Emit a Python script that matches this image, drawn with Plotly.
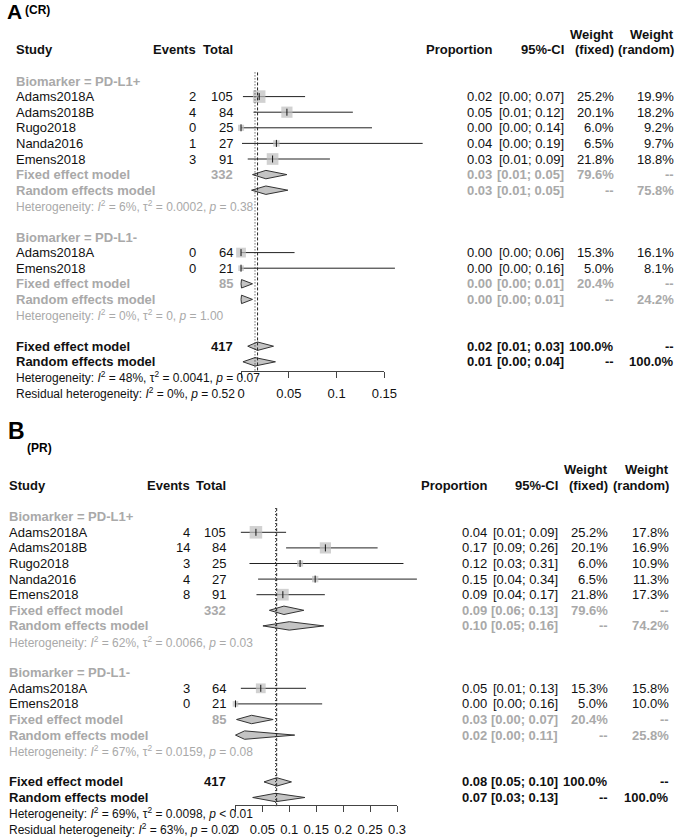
import math
import plotly.graph_objects as go

W, H = 692, 839
FONT = "Liberation Sans, Arial, Helvetica, sans-serif"
BLACK = "#111111"
GREY = "#a9a9a9"

# ---- shared study info ----
study_pos = ["Adams2018A", "Adams2018B", "Rugo2018", "Nanda2016", "Emens2018"]
study_neg = ["Adams2018A", "Emens2018"]
total_pos = [105, 84, 25, 27, 91]
total_neg = [64, 21]
pool_names = ["Fixed effect model", "Random effects model"]
pool_totals = [332, 85, 417]
pool_wfix = [79.6, None, 20.4, None, 100.0, None]

# ---- (CR) complete response ----
cr_events_pos = [2, 4, 0, 1, 3]
cr_events_neg = [0, 0]
cr_est_pos = [0.019, 0.048, 0.000, 0.037, 0.033]
cr_lo_pos = [0.002, 0.013, 0.000, 0.001, 0.007]
cr_hi_pos = [0.067, 0.117, 0.137, 0.190, 0.093]
cr_est_neg = [0.000, 0.000]
cr_lo_neg = [0.000, 0.000]
cr_hi_neg = [0.056, 0.161]
cr_wfix_pos = [25.2, 20.1, 6.0, 6.5, 21.8]
cr_wran_pos = [19.9, 18.2, 9.2, 9.7, 18.8]
cr_wfix_neg = [15.3, 5.0]
cr_wran_neg = [16.1, 8.1]
# pooled order: fixed PD-L1+, random PD-L1+, fixed PD-L1-, random PD-L1-, fixed all, random all
cr_pool_est = [0.026, 0.026, 0.0005, 0.0005, 0.0173, 0.0146]
cr_pool_lo = [0.012, 0.011, 0.000, 0.000, 0.007, 0.002]
cr_pool_hi = [0.048, 0.049, 0.012, 0.012, 0.034, 0.036]
cr_pool_wran = [None, 75.8, None, 24.2, None, 100.0]
cr_het = ["<i>I</i><sup>2</sup> = 6%, τ<sup>2</sup> = 0.0002, <i>p</i> = 0.38",
          "<i>I</i><sup>2</sup> = 0%, τ<sup>2</sup> = 0, <i>p</i> = 1.00",
          "<i>I</i><sup>2</sup> = 48%, τ<sup>2</sup> = 0.0041, <i>p</i> = 0.07",
          "<i>I</i><sup>2</sup> = 0%, <i>p</i> = 0.52"]
cr_ticks = [0, 0.05, 0.1, 0.15]
cr_ticktext = ["0", "0.05", "0.1", "0.15"]

# ---- (PR) partial response ----
pr_events_pos = [4, 14, 3, 4, 8]
pr_events_neg = [3, 0]
pr_est_pos = [0.038, 0.167, 0.120, 0.148, 0.088]
pr_lo_pos = [0.010, 0.094, 0.026, 0.042, 0.039]
pr_hi_pos = [0.094, 0.264, 0.312, 0.337, 0.166]
pr_est_neg = [0.047, 0.000]
pr_lo_neg = [0.010, 0.000]
pr_hi_neg = [0.131, 0.161]
pr_wfix_pos = [25.2, 20.1, 6.0, 6.5, 21.8]
pr_wran_pos = [17.8, 16.9, 10.9, 11.3, 17.3]
pr_wfix_neg = [15.3, 5.0]
pr_wran_neg = [15.8, 10.0]
pr_pool_est = [0.090, 0.100, 0.030, 0.017, 0.0765, 0.0745]
pr_pool_lo = [0.063, 0.051, 0.002, 0.000, 0.053, 0.032]
pr_pool_hi = [0.127, 0.164, 0.070, 0.110, 0.104, 0.129]
pr_pool_wran = [None, 74.2, None, 25.8, None, 100.0]
pr_het = ["<i>I</i><sup>2</sup> = 62%, τ<sup>2</sup> = 0.0066, <i>p</i> = 0.03",
          "<i>I</i><sup>2</sup> = 67%, τ<sup>2</sup> = 0.0159, <i>p</i> = 0.08",
          "<i>I</i><sup>2</sup> = 69%, τ<sup>2</sup> = 0.0098, <i>p</i> &lt; 0.01",
          "<i>I</i><sup>2</sup> = 63%, <i>p</i> = 0.02"]
pr_ticks = [0, 0.05, 0.1, 0.15, 0.2, 0.25, 0.3]
pr_ticktext = ["0", "0.05", "0.1", "0.15", "0.2", "0.25", "0.3"]

# rows (top to bottom)
ROW_GRP = [0, 10]
ROW_POS = [1, 2, 3, 4, 5]
ROW_NEG = [11, 12]
ROW_POOL = [6, 7, 13, 14, 17, 18]
ROW_HET = [8, 15, 19, 20]

fig = go.Figure()
annotations = []


def txt(x_px, yref, row, text, anchor="left", color=BLACK, bold=False, size=13):
    if bold:
        text = "<b>" + text + "</b>"
    annotations.append(dict(x=x_px / W, xref="paper", y=row, yref=yref, text=text,
                            xanchor=anchor, yanchor="middle", showarrow=False,
                            font=dict(family=FONT, size=size, color=color)))


def ptxt(v):
    return "--" if v is None else "%.1f%%" % v


def panel(xa, ya, xv, yref, g, ev_pos, ev_neg, est_pos, lo_pos, hi_pos, est_neg, lo_neg, hi_neg,
          wf_pos, wr_pos, wf_neg, wr_neg, p_est, p_lo, p_hi, p_wran, het):
    # header
    txt(g["wf"], yref, -3, "Weight", "right", bold=True)
    txt(g["wr"], yref, -3, "Weight", "right", bold=True)
    for key, label in [("left", "Study"), ("ev", "Events"), ("tot", "Total"), ("prop", "Proportion"),
                       ("ci", "95%-CI"), ("wf", "(fixed)"), ("wr", "(random)")]:
        txt(g[key], yref, -2, label, "left" if key == "left" else "right", bold=True)
    txt(g["left"], yref, ROW_GRP[0], "Biomarker = PD-L1+", color=GREY, bold=True)
    txt(g["left"], yref, ROW_GRP[1], "Biomarker = PD-L1-", color=GREY, bold=True)

    names = study_pos + study_neg
    events = ev_pos + ev_neg
    totals = total_pos + total_neg
    est = est_pos + est_neg
    lo = lo_pos + lo_neg
    hi = hi_pos + hi_neg
    wf = wf_pos + wf_neg
    wr = wr_pos + wr_neg
    rows = ROW_POS + ROW_NEG
    for i, r in enumerate(rows):
        txt(g["left"], yref, r, names[i])
        txt(g["ev"], yref, r, str(events[i]), "right")
        txt(g["tot"], yref, r, str(totals[i]), "right")
        txt(g["prop"], yref, r, "%.2f" % est[i], "right")
        txt(g["ci"], yref, r, "[%.2f; %.2f]" % (lo[i], hi[i]), "right")
        txt(g["wf"], yref, r, ptxt(wf[i]), "right")
        txt(g["wr"], yref, r, ptxt(wr[i]), "right")

    for j, r in enumerate(ROW_POOL):
        c = BLACK if j >= 4 else GREY
        txt(g["left"], yref, r, pool_names[j % 2], color=c, bold=True)
        if j % 2 == 0:
            txt(g["tot"], yref, r, str(pool_totals[j // 2]), "right", color=c, bold=True)
        txt(g["prop"], yref, r, "%.2f" % p_est[j], "right", color=c, bold=True)
        txt(g["ci"], yref, r, "[%.2f; %.2f]" % (p_lo[j], p_hi[j]), "right", color=c, bold=True)
        txt(g["wf"], yref, r, ptxt(pool_wfix[j]), "right", color=c, bold=True)
        txt(g["wr"], yref, r, ptxt(p_wran[j]), "right", color=c, bold=True)

    for k, r in enumerate(ROW_HET):
        c = GREY if k < 2 else BLACK
        lead = "Residual heterogeneity: " if k == 3 else "Heterogeneity: "
        txt(g["left"], yref, r, lead + het[k], color=c, size=12)

    # confidence intervals
    cx, cy = [], []
    for i, r in enumerate(rows):
        cx += [lo[i], hi[i], None]
        cy += [r, r, None]
    fig.add_trace(go.Scatter(x=cx, y=cy, mode="lines", xaxis=xa, yaxis=ya,
                             line=dict(color="#222222", width=1), hoverinfo="skip"))
    fig.add_trace(go.Scatter(x=est, y=rows, mode="markers", xaxis=xa, yaxis=ya,
                             marker=dict(symbol="square", color="#bdbdbd",
                                         size=[2.5 * math.sqrt(w) for w in wf],
                                         line=dict(width=0))))
    fig.add_trace(go.Scatter(x=est, y=rows, mode="markers", xaxis=xa, yaxis=ya,
                             marker=dict(symbol="line-ns", size=5,
                                         line=dict(color="#111111", width=1))))
    # diamonds
    h = 0.27
    for j, r in enumerate(ROW_POOL):
        fig.add_trace(go.Scatter(x=[p_lo[j], p_est[j], p_hi[j], p_est[j], p_lo[j]],
                                 y=[r, r - h, r, r + h, r], mode="lines", fill="toself",
                                 fillcolor="#c4c4c4", xaxis=xa, yaxis=ya,
                                 line=dict(color="#333333", width=1)))
    # reference lines: fixed (dashed) and random (dotted) overall estimates
    top, bottom = -0.55, 18.6
    fig.add_trace(go.Scatter(x=[p_est[4], p_est[4]], y=[top, bottom], mode="lines", xaxis=xv, yaxis=ya,
                             line=dict(color="#222222", width=1, dash="3px,2px")))
    fig.add_trace(go.Scatter(x=[p_est[5], p_est[5]], y=[top, bottom], mode="lines", xaxis=xv, yaxis=ya,
                             line=dict(color="#222222", width=1, dash="1px,2px")))


geoA = dict(row0=81.0, dy=15.6, top=0, bottom=420, zero=243.0, ppu=980.0, axis=371, standoff=4,
            left=10, ev=199, tot=237, prop=502, ci=576, wf=627, wr=689)
geoB = dict(row0=516.7, dy=15.6, top=420, bottom=839, zero=237.3, ppu=552.0, axis=805, standoff=6,
            left=3.5, ev=192.7, tot=230, prop=497, ci=570, wf=621, wr=684)

panel("x", "y", "x3", "y", geoA, cr_events_pos, cr_events_neg, cr_est_pos, cr_lo_pos, cr_hi_pos,
      cr_est_neg, cr_lo_neg, cr_hi_neg, cr_wfix_pos, cr_wran_pos, cr_wfix_neg, cr_wran_neg,
      cr_pool_est, cr_pool_lo, cr_pool_hi, cr_pool_wran, cr_het)
panel("x2", "y2", "x4", "y2", geoB, pr_events_pos, pr_events_neg, pr_est_pos, pr_lo_pos, pr_hi_pos,
      pr_est_neg, pr_lo_neg, pr_hi_neg, pr_wfix_pos, pr_wran_pos, pr_wfix_neg, pr_wran_neg,
      pr_pool_est, pr_pool_lo, pr_pool_hi, pr_pool_wran, pr_het)

# panel letters
for letter, sub, lx, ly, lsize, sx, sy in [("A", "(CR)", 1, 12, 21, 19, 10),
                                            ("B", "(PR)", 2, 431, 23, 22, 448)]:
    annotations.append(dict(x=lx / W, y=1 - ly / H, xref="paper", yref="paper", text="<b>%s</b>" % letter,
                            xanchor="left", yanchor="middle", showarrow=False,
                            font=dict(family=FONT, size=lsize, color="#000000")))
    annotations.append(dict(x=sx / W, y=1 - sy / H, xref="paper", yref="paper", text="<b>%s</b>" % sub,
                            xanchor="left", yanchor="middle", showarrow=False,
                            font=dict(family=FONT, size=12, color="#000000")))


def data_axes(g):
    xr = [(0 - g["zero"]) / g["ppu"], (W - g["zero"]) / g["ppu"]]
    yr = [(g["bottom"] - g["row0"]) / g["dy"], (g["top"] - g["row0"]) / g["dy"]]
    yd = [1 - g["bottom"] / H, 1 - g["top"] / H]
    return xr, yr, yd


def vis_axis(g, ticks, labels):
    return dict(domain=[g["zero"] / W, (g["zero"] + ticks[-1] * g["ppu"]) / W], range=[0, ticks[-1]],
                anchor="free", position=1 - g["axis"] / H, showline=True, linecolor="#444444",
                linewidth=1, ticks="outside", ticklen=6, tickcolor="#444444", tickvals=ticks,
                ticktext=labels, showgrid=False, zeroline=False, ticklabelstandoff=g["standoff"],
                tickfont=dict(family=FONT, size=13, color=BLACK))


xrA, yrA, ydA = data_axes(geoA)
xrB, yrB, ydB = data_axes(geoB)

fig.update_layout(
    width=W, height=H, margin=dict(l=0, r=0, t=0, b=0),
    paper_bgcolor="white", plot_bgcolor="rgba(0,0,0,0)", showlegend=False, hovermode=False,
    xaxis=dict(domain=[0, 1], range=xrA, visible=False, anchor="y"),
    yaxis=dict(domain=ydA, range=yrA, visible=False, anchor="x"),
    xaxis2=dict(domain=[0, 1], range=xrB, visible=False, anchor="y2"),
    yaxis2=dict(domain=ydB, range=yrB, visible=False, anchor="x2"),
    xaxis3=vis_axis(geoA, cr_ticks, cr_ticktext),
    xaxis4=vis_axis(geoB, pr_ticks, pr_ticktext),
    annotations=annotations,
)

# the page's default body margin would push the 692x839 figure off the window
fig.write_html("out.html", config={"displayModeBar": False},
               post_script=["document.body.style.margin='0px';"])
